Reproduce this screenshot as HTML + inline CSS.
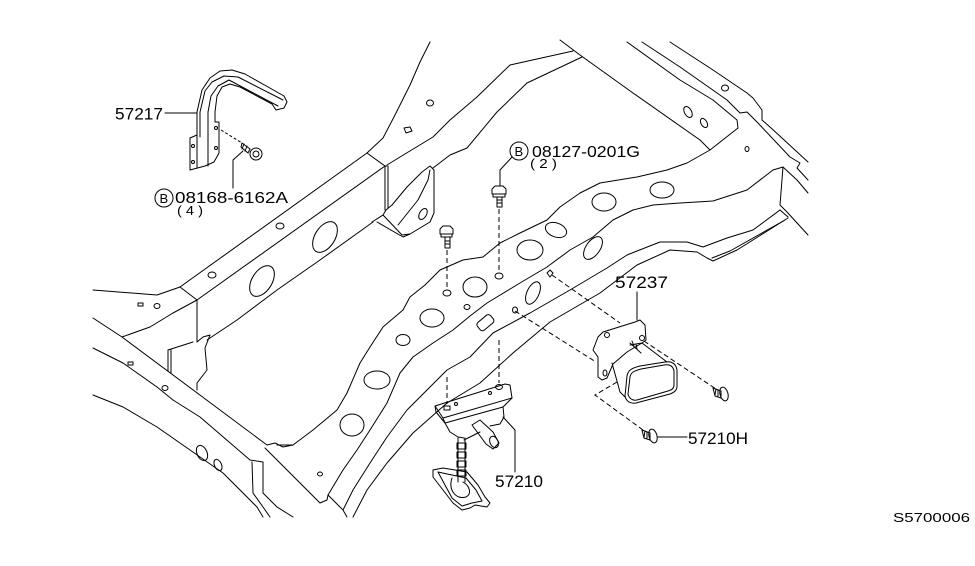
<!DOCTYPE html>
<html><head><meta charset="utf-8"><style>
html,body{margin:0;padding:0;background:#fff;}
svg{display:block;}
text{font-family:"Liberation Sans",sans-serif;fill:#000;}
</style></head><body>
<svg width="975" height="566" viewBox="0 0 975 566" xmlns="http://www.w3.org/2000/svg">
<rect width="975" height="566" fill="#fff"/>
<g fill="none" stroke="#000" stroke-width="1" stroke-linejoin="round" stroke-linecap="round">
<!-- LEFT RAIL -->
<polyline points="93,290 157,295 180,287 367,153 383,138 395,115 410,85 420,62 430,42"/>
<polyline points="180,287 197,300 385,166"/>
<polyline points="367,153 385,166 387,166"/>
<polyline points="387,165 400,157 433,137 450,120 477,97 510,65 573,51"/>
<polyline points="433,168 450,155 467,148 497,112 527,83 582,57"/>
<polyline points="560,40 580,55 633,93 700,140 710,150"/>
<polyline points="207,340 237,320 277,290 320,260 373,222"/>
<!-- gusset 1 -->
<polyline points="385,166 385,210"/>
<polyline points="388,166 388,208"/>
<polyline points="372,222 383,215 402,235 410,234 430,222 434,213 434,170 430,166 422,172 407,187 392,205 386,210 383,215"/>
<polyline points="377,222 403,237 410,234"/>
<polyline points="398,225 418,200 428,180 430,170"/>
<ellipse cx="423" cy="214" rx="3.5" ry="6" transform="rotate(30 423 214)"/>
<!-- left rail holes -->
<ellipse cx="325" cy="237" rx="10" ry="17" transform="rotate(32 325 237)"/>
<ellipse cx="262" cy="281" rx="10" ry="17" transform="rotate(32 262 281)"/>
<ellipse cx="280" cy="226" rx="4" ry="3"/>
<ellipse cx="212" cy="275" rx="4" ry="3"/>
<ellipse cx="430" cy="103" rx="3.5" ry="3"/>
<path d="M404,128 L410,127 L412,131 L406,133 Z"/>
<!-- lower-left cross member -->
<polyline points="122,337 150,327 173,313 197,300"/>
<polyline points="93,318 122,337 267,445 275,443 283,447 293,445"/>
<polyline points="93,348 123,363 157,387 173,400 200,417 250,460 263,462"/>
<polyline points="93,395 123,407 157,427 190,450 223,473 257,507 263,517"/>
<polyline points="265,448 320,503 327,500 328,495 343,510 347,517"/>
<polyline points="252,462 253,493 263,507 270,517"/>
<polyline points="263,462 263,493 277,507 293,517"/>
<ellipse cx="202" cy="453" rx="5" ry="8" transform="rotate(-25 202 453)"/>
<ellipse cx="218" cy="465" rx="3.5" ry="6" transform="rotate(-25 218 465)"/>
<rect x="138" y="303" width="5" height="3"/>
<ellipse cx="157" cy="306" rx="3" ry="2.5"/>
<rect x="128" y="362" width="5" height="3"/>
<ellipse cx="165" cy="388" rx="3" ry="2.5"/>
<ellipse cx="320" cy="474" rx="2.5" ry="2"/>
<!-- gusset 2 -->
<polyline points="197,300 197,342 203,337 210,335 205,348 207,370 197,383 197,390"/>
<polyline points="168,350 193,342"/>
<polyline points="168,350 168,371"/>
<polyline points="171,350 171,373"/>
<!-- RIGHT RAIL -->
<polyline points="277,445 293,445 313,430 337,410 347,393 360,363 370,347 383,327 403,310 410,297 425,285 440,270 463,260 483,257 500,243 520,233 547,220 560,207 580,193 600,183 637,177 667,170 687,163 710,150 738,128 737,120 713,100 680,80 627,42"/>
<polyline points="328,495 343,470 357,450 370,430 387,403 400,373 413,357 433,343 453,330 470,316 487,303 520,283 547,267 570,250 593,237 613,220 633,210 653,205 680,203 713,201 747,190 773,170 783,167 797,180 808,193"/>
<polyline points="343,510 353,490 370,463 387,437 407,410 427,390 447,370 470,357 493,333 530,313 570,290 607,268 627,255 660,242 687,242 703,247 727,238 753,230 780,210 788,217"/>
<polyline points="353,517 367,490 387,463 413,433 447,403 480,383 513,353 550,322 600,293 637,265 670,250 697,252 707,258 713,261 737,250 788,218"/>
<polyline points="783,167 780,205 787,212 808,235"/>
<polyline points="712,258 730,251 785,220"/>
<!-- top-right cross member -->
<polyline points="642,42 680,67 727,100 740,113 747,112 757,122 790,157 800,163 797,168 808,180"/>
<polyline points="670,42 713,70 747,93 753,98 762,110 762,120 770,127 808,162"/>
<ellipse cx="725" cy="88" rx="3.5" ry="3"/>
<ellipse cx="688" cy="112" rx="3.5" ry="6" transform="rotate(-30 688 112)"/>
<ellipse cx="704" cy="123" rx="3" ry="5" transform="rotate(-30 704 123)"/>
<ellipse cx="747" cy="149" rx="2" ry="2.5"/>
<!-- right rail holes -->
<ellipse cx="662" cy="190" rx="12" ry="8"/>
<ellipse cx="604" cy="202" rx="12" ry="9"/>
<ellipse cx="556" cy="230" rx="11" ry="7" transform="rotate(20 556 230)"/>
<ellipse cx="530" cy="250" rx="13" ry="10"/>
<ellipse cx="593" cy="248" rx="7" ry="13" transform="rotate(35 593 248)"/>
<ellipse cx="475" cy="287" rx="12" ry="10"/>
<ellipse cx="533" cy="293" rx="6" ry="12" transform="rotate(25 533 293)"/>
<ellipse cx="432" cy="318" rx="12" ry="9"/>
<ellipse cx="403" cy="340" rx="7" ry="5.5"/>
<ellipse cx="377" cy="380" rx="13" ry="9"/>
<ellipse cx="352" cy="425" rx="12" ry="11"/>
<rect x="477" y="318" width="17" height="10" rx="3" transform="rotate(-40 485 323)"/>
<ellipse cx="467" cy="307" rx="3" ry="2.5"/>
<ellipse cx="515" cy="310" rx="2.5" ry="3"/>
<path d="M550,270 L553,273 L550,277 L547,273 Z"/>
<ellipse cx="447" cy="293" rx="4" ry="3"/>
<ellipse cx="499" cy="276" rx="4" ry="3"/>
<!-- bolts -->
<path d="M440,229 L443,226 L450,226 L453,229 L453,234 L440,234 Z"/>
<path d="M441,234 L452,234 L452,237 L441,237 Z"/>
<path d="M445,237 L445,248 L450,248 L450,237"/>
<line x1="445" y1="241" x2="450" y2="241"/><line x1="445" y1="244" x2="450" y2="244"/>
<path d="M492,189 L495,186 L503,186 L506,189 L506,194 L492,194 Z"/>
<path d="M493,194 L505,194 L505,197 L493,197 Z"/>
<path d="M497,197 L497,207 L502,207 L502,197"/>
<line x1="497" y1="200" x2="502" y2="200"/><line x1="497" y1="203" x2="502" y2="203"/>
<polyline points="512,157 500,170 500,186"/>
</g>
<!-- dashed lines -->
<g fill="none" stroke="#000" stroke-width="1" stroke-dasharray="5,3">
<line x1="447" y1="250" x2="447" y2="289"/>
<line x1="447" y1="377" x2="447" y2="404"/>
<line x1="499" y1="209" x2="499" y2="272"/>
<line x1="499" y1="340" x2="499" y2="383"/>
<line x1="552" y1="275" x2="620" y2="323"/>
<line x1="515" y1="311" x2="596" y2="362"/>
<line x1="644" y1="341" x2="716" y2="389"/>
<polyline points="617,382 595,395 643,430"/>
<line x1="221" y1="130" x2="242" y2="143" stroke-dasharray="3,2"/>
</g>
<g fill="none" stroke="#000" stroke-width="1" stroke-linejoin="round" stroke-linecap="round">
<!-- 57217 bracket -->
<path d="M190,138 L197,135 L197,112 L202,90 L210,78 L220,71 L232,70 L245,74 L284,96 L287,102 L284,108 L276,110 L272,104 L240,87 L230,84 L222,87 L217,96 L215,112 L215,122 L219,122 L219,153 L214,162 L205,166 L190,170 Z"/>
<polyline points="200,137 200,112 205,91 212,82 224,76 238,77 283,100"/>
<polyline points="208,166 208,112 211,96 218,86 229,80 278,106"/>
<line x1="197" y1="135" x2="197" y2="168"/>
<circle cx="193" cy="146" r="1.5"/><circle cx="193" cy="162" r="1.5"/>
<circle cx="216" cy="128" r="1.5"/><circle cx="216" cy="148" r="1.5"/>
<circle cx="256" cy="154" r="6"/>
<circle cx="256" cy="154" r="3"/>
<path d="M242,143 L250,149 L248,153 L241,147 Z"/>
<line x1="244" y1="144" x2="242" y2="149"/><line x1="247" y1="146" x2="245" y2="151"/>
<polyline points="165,113 197,113"/>
<polyline points="233,188 233,160 243,151"/>
<circle cx="164" cy="198" r="9"/>
<circle cx="519" cy="151" r="9"/>
<!-- 57210 hanger -->
<path d="M435,406 L505,384 L510,385 L512,398 L443,418 Z"/>
<polyline points="435,406 436,412 445,423 503,407 512,398"/>
<line x1="443" y1="418" x2="445" y2="423"/>
<rect x="444" y="406" width="6" height="4"/>
<ellipse cx="499" cy="387" rx="3.5" ry="2.5"/>
<circle cx="456" cy="404" r="1.5"/><circle cx="490" cy="393" r="1.5"/>
<polyline points="445,423 450,432 458,437 464,438"/>
<polyline points="503,407 504,417 500,424 490,426"/>
<path d="M472,425 L480,420 L493,432 L499,443 L493,449 L486,444 Z"/>
<ellipse cx="494" cy="442" rx="4" ry="6" transform="rotate(-25 494 442)"/>
<polyline points="464,440 472,436 480,432"/>
<line x1="458" y1="438" x2="458" y2="482"/>
<line x1="465" y1="438" x2="465" y2="482"/>
<rect x="457" y="443" width="9" height="6"/>
<rect x="457" y="452" width="9" height="6"/>
<rect x="457" y="461" width="9" height="6"/>
<rect x="457" y="470" width="9" height="6"/>
<path d="M433,470 L443,468 L467,472 L478,485 L485,497 L490,503 L487,507 L475,505 L470,508 L462,510 L453,503 L433,477 Z"/>
<path d="M438,472 L452,475 L466,478 L476,490 L482,501 L472,503 L462,506 L452,498 Z"/>
<path d="M452,478 C448,490 456,500 466,497 C472,494 470,486 463,482"/>
<polyline points="503,417 515,430 515,472"/>
<!-- 57237 bracket & duct -->
<path d="M593,350 L598,337 L603,332 L635,322 L640,320 L645,325 L646,340 L642,343 L627,352 L613,364 L607,378 L602,380 L598,377 L598,357 Z"/>
<line x1="637" y1="292" x2="637" y2="320"/>
<circle cx="607" cy="335" r="2.5"/>
<circle cx="642" cy="338" r="2.5"/>
<ellipse cx="605" cy="373" rx="2" ry="3"/>
<path d="M627,376 C628,370 632,368 640,366 L665,362 C672,361 676,364 677,370 L677,386 C677,390 675,392 670,394 L636,403 C630,404 626,401 625,396 Z"/>
<path d="M630,377 C631,372 634,371 641,369 L664,365 C670,364 673,366 674,371 L674,385 C674,388 672,390 668,391 L637,400 C632,401 629,398 628,394 Z"/>
<polyline points="612,363 620,392 625,397"/>
<polyline points="630,345 642,343 667,362"/>
<line x1="630" y1="343" x2="641" y2="353"/>
<line x1="632" y1="341" x2="634" y2="346"/><line x1="636" y1="344" x2="637" y2="349"/>
<!-- clips -->
<ellipse cx="724" cy="394" rx="4" ry="7" transform="rotate(-15 724 394)"/>
<path d="M713,388 L721,391 L721,398 L715,396 Z"/>
<line x1="716" y1="389" x2="715" y2="395"/><line x1="718" y1="390" x2="718" y2="396"/>
<ellipse cx="653" cy="436" rx="4" ry="7" transform="rotate(-15 653 436)"/>
<path d="M642,430 L650,433 L650,440 L644,438 Z"/>
<line x1="645" y1="431" x2="644" y2="437"/><line x1="647" y1="432" x2="647" y2="438"/>
<line x1="658" y1="437" x2="687" y2="437"/>
</g>
<!-- labels -->
<text x="115" y="119.5" font-size="17" textLength="48" lengthAdjust="spacingAndGlyphs">57217</text>
<text x="159.5" y="203" font-size="13">B</text>
<text x="175" y="203" font-size="16" textLength="113" lengthAdjust="spacingAndGlyphs">08168-6162A</text>
<text x="177" y="215" font-size="13" textLength="26" lengthAdjust="spacingAndGlyphs">( 4 )</text>
<text x="514.5" y="156" font-size="13">B</text>
<text x="532" y="157" font-size="16" textLength="108" lengthAdjust="spacingAndGlyphs">08127-0201G</text>
<text x="530" y="168" font-size="13" textLength="27" lengthAdjust="spacingAndGlyphs">( 2 )</text>
<text x="615" y="288" font-size="17" textLength="53" lengthAdjust="spacingAndGlyphs">57237</text>
<text x="495" y="487" font-size="17" textLength="48" lengthAdjust="spacingAndGlyphs">57210</text>
<text x="688" y="444" font-size="17" textLength="60" lengthAdjust="spacingAndGlyphs">57210H</text>
<text x="893" y="522" font-size="13" textLength="77" lengthAdjust="spacingAndGlyphs">S5700006</text>
</svg>
</body></html>
